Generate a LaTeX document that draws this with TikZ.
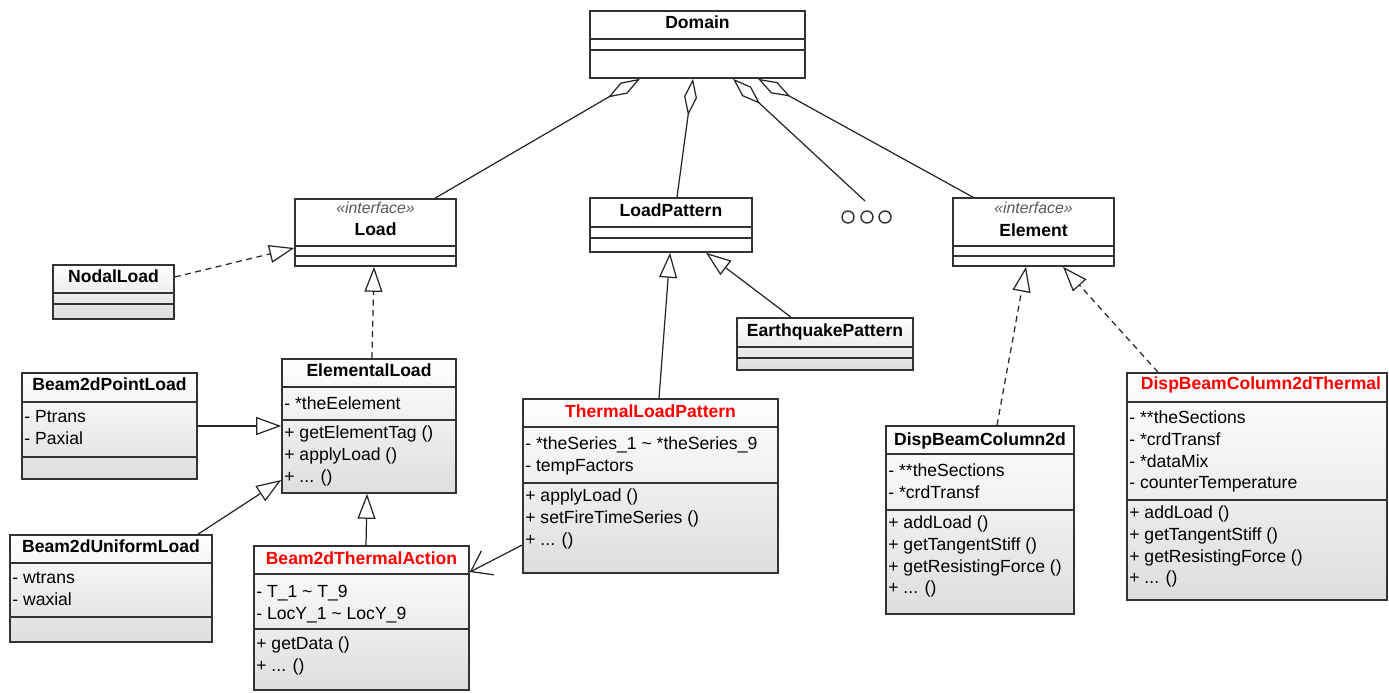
\documentclass[tikz,border=0pt]{standalone}
\usepackage{fontspec}
\setmainfont{Liberation Sans}
\usetikzlibrary{arrows.meta}
\usetikzlibrary{fit}

\def\thickness{0.9pt}
\tikzstyle{umlbox}=[draw=black!80, line width=\thickness, inner sep=0pt, top color=white, bottom color=black!13]
\tikzstyle{plainbox}=[draw=black!80, line width=\thickness, inner sep=0pt, fill=white]
\tikzstyle{sepline}=[draw=black!80, line width=\thickness]
\tikzstyle{title}=[anchor=base, inner sep=0pt, font=\fontsize{10}{12}\selectfont\bfseries]
\tikzstyle{redtitle}=[title, text=red]
\tikzstyle{stereo}=[anchor=base, inner sep=0pt, font=\fontsize{9}{11}\selectfont\itshape, text=black!65]
\tikzstyle{members}=[anchor=north west, inner sep=0pt, align=left, font=\fontsize{10}{12.5}\selectfont]
\tikzstyle{etcdot}=[circle, draw=black!80, line width=0.8pt, minimum size=2.4mm, inner sep=0pt]
\tikzstyle{link}=[draw=black!85, line width=0.7pt]
\tikzset{aggregation/.style={link, {Diamond[fill=white, length=7.4mm, width=2.6mm]}-}}
\tikzset{generalize/.style={link, -{Triangle[fill=white, length=5mm, width=3.6mm]}}}
\tikzset{realize/.style={generalize, dash pattern=on 1.2mm off 0.9mm}}
\tikzset{association/.style={link, -{Straight Barb[length=3.8mm, width=5.4mm]}}}
% compartment line of a class box
\newcommand\umlsep[2]{\draw[sepline] (#1.west |- 0,#2) -- (#1.east |- 0,#2);}

\begin{document}
\begin{tikzpicture}[x=0.2mm, y=-0.2mm]
\useasboundingbox (0,0) rectangle (1389,692);

% top level
\node[plainbox, fit={(590,11) (805,78)}] (domain) {};
\umlsep{domain}{39} \umlsep{domain}{50}
\node[title] (domain-n) at (697.5,28) {Domain};

\node[plainbox, fit={(295,199) (456,266)}] (load) {};
\umlsep{load}{246} \umlsep{load}{256}
\node[stereo] (load-s) at (375.5,213) {«interface»};
\node[title] (load-n) at (375.5,235) {Load};

\node[plainbox, fit={(590,198) (752,252)}] (loadpattern) {};
\umlsep{loadpattern}{227} \umlsep{loadpattern}{238}
\node[title] (loadpattern-n) at (671,216) {LoadPattern};

\node[plainbox, fit={(953,198) (1114,266)}] (element) {};
\umlsep{element}{246} \umlsep{element}{256}
\node[stereo] (element-s) at (1033.5,213) {«interface»};
\node[title] (element-n) at (1033.5,236) {Element};

\foreach \x/\n in {848/1, 867/2, 885/3}
  \node[etcdot] (etc\n) at (\x,217) {};
\coordinate (etc-top) at (865,201);

% loads
\node[umlbox, fit={(53,265) (174,319)}] (nodal) {};
\umlsep{nodal}{293} \umlsep{nodal}{304}
\node[title] (nodal-n) at (113.5,282) {NodalLoad};

\node[umlbox, fit={(282,359) (456,493)}] (elemload) {};
\umlsep{elemload}{387} \umlsep{elemload}{420}
\node[title] (elemload-n) at (369,376) {ElementalLoad};
\node[members] (elemload-a) at (284,396) {- *theEelement};
\node[members] (elemload-m) at (284,425) {+ getElementTag ()\\+ applyLoad ()\\+ ... ()};

\node[umlbox, fit={(22,373) (197,479)}] (pointload) {};
\umlsep{pointload}{402} \umlsep{pointload}{457}
\node[title] (pointload-n) at (109.5,390) {Beam2dPointLoad};
\node[members] (pointload-a) at (24,410) {- Ptrans\\- Paxial};

\node[umlbox, fit={(10,535) (212,642)}] (uniformload) {};
\umlsep{uniformload}{563} \umlsep{uniformload}{617}
\node[title] (uniformload-n) at (111,552) {Beam2dUniformLoad};
\node[members] (uniformload-a) at (12,572) {- wtrans\\- waxial};

\node[umlbox, fit={(254,546) (469,690)}] (thermalaction) {};
\umlsep{thermalaction}{574} \umlsep{thermalaction}{629}
\node[redtitle] (thermalaction-n) at (361.5,564) {Beam2dThermalAction};
\node[members] (thermalaction-a) at (256,585) {- T\_1 \textasciitilde{} T\_9\\- LocY\_1 \textasciitilde{} LocY\_9};
\node[members] (thermalaction-m) at (256,636) {+ getData ()\\+ ... ()};

% load patterns
\node[umlbox, fit={(523,399) (778,573)}] (thermalpattern) {};
\umlsep{thermalpattern}{427} \umlsep{thermalpattern}{483}
\node[redtitle] (thermalpattern-n) at (650.5,417) {ThermalLoadPattern};
\node[members] (thermalpattern-a) at (525,436) {- *theSeries\_1 \textasciitilde{} *theSeries\_9\\- tempFactors};
\node[members] (thermalpattern-m) at (525,488) {+ applyLoad ()\\+ setFireTimeSeries ()\\+ ... ()};

\node[umlbox, fit={(737,318) (913,370)}] (quake) {};
\umlsep{quake}{347} \umlsep{quake}{358}
\node[title] (quake-n) at (825,336) {EarthquakePattern};

% elements
\node[umlbox, fit={(886,426) (1074,614)}] (dispbc) {};
\umlsep{dispbc}{454} \umlsep{dispbc}{510}
\node[title] (dispbc-n) at (980,445) {DispBeamColumn2d};
\node[members] (dispbc-a) at (888,463) {- **theSections\\- *crdTransf};
\node[members] (dispbc-m) at (888,515) {+ addLoad ()\\+ getTangentStiff ()\\+ getResistingForce ()\\+ ... ()};

\node[umlbox, fit={(1127,373) (1387,600)}] (dispthermal) {};
\umlsep{dispthermal}{402} \umlsep{dispthermal}{500}
\node[redtitle] (dispthermal-n) at (1261,389) {DispBeamColumn2dThermal};
\node[members] (dispthermal-a) at (1129,410) {- **theSections\\- *crdTransf\\- *dataMix\\- counterTemperature};
\node[members] (dispthermal-m) at (1129,505) {+ addLoad ()\\+ getTangentStiff ()\\+ getResistingForce ()\\+ ... ()};

% connectors
\draw[aggregation] (domain.south -| 640,0) -- (load.north -| 435,0);
\draw[aggregation] (domain.south -| 693,0) -- (loadpattern.north -| 677,0);
\draw[aggregation] (domain.south -| 733,0) -- (etc-top);
\draw[aggregation] (domain.south -| 758,0) -- (element.north -| 973,0);
\draw[realize] (nodal.east |- 0,277) -- (load.west |- 0,248);
\draw[realize] (elemload.north -| 372,0) -- (load.south -| 374,0);
\draw[generalize] (pointload.east |- 0,426) -- (elemload.west |- 0,426);
\draw[generalize] (uniformload.north -| 198,0) -- (elemload.west |- 0,480);
\draw[generalize] (thermalaction.north -| 366,0) -- (elemload.south -| 367,0);
\draw[association] (thermalpattern.west |- 0,545) -- (thermalaction.east |- 0,572);
\draw[generalize] (thermalpattern.north -| 659,0) -- (loadpattern.south -| 670,0);
\draw[generalize] (quake.north -| 791,0) -- (loadpattern.south -| 706,0);
\draw[realize] (dispbc.north -| 997,0) -- (element.south -| 1026,0);
\draw[realize] (dispthermal.north -| 1158,0) -- (element.south -| 1063,0);
\end{tikzpicture}
\end{document}
